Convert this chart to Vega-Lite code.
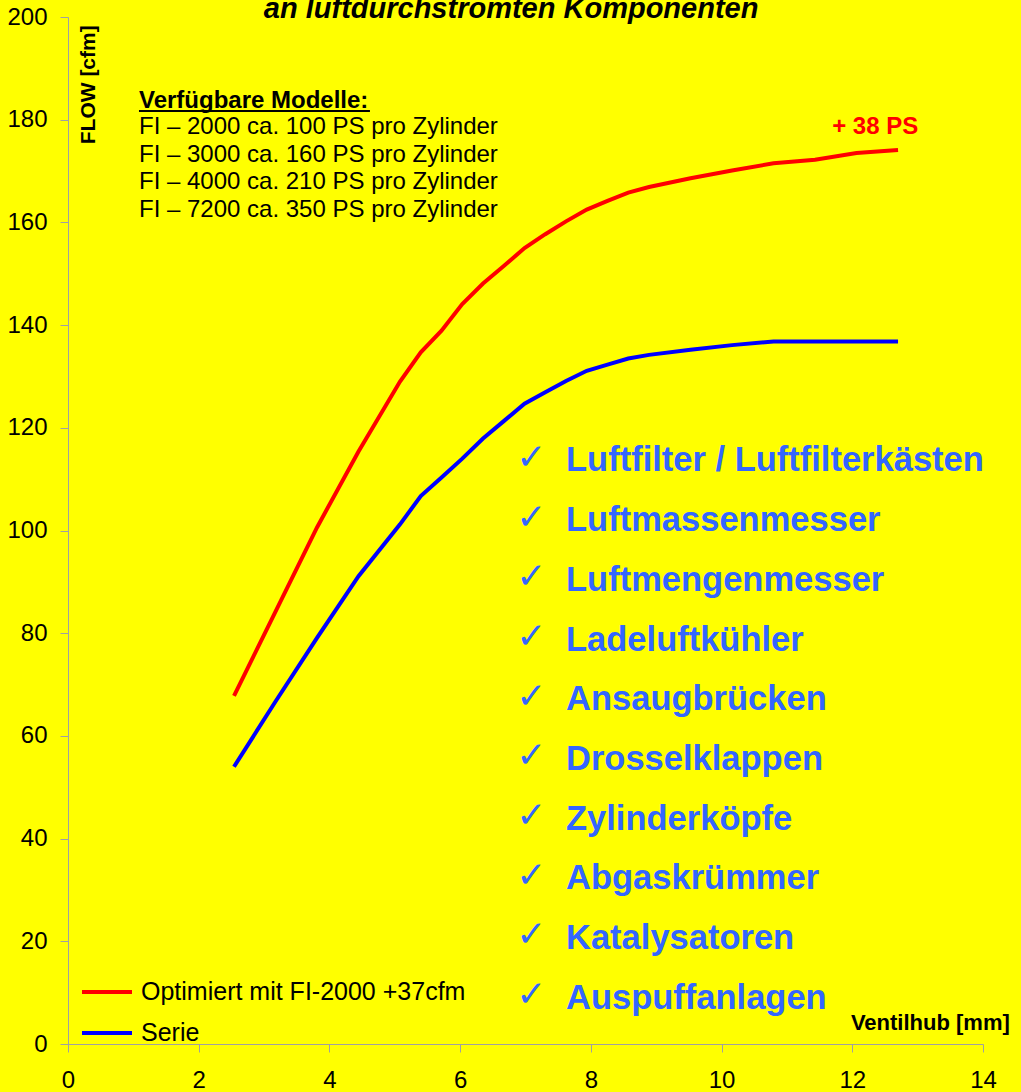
{
  "$schema": "https://vega.github.io/schema/vega-lite/v6.json",
  "width": 915,
  "height": 1027,
  "autosize": {"type": "none"},
  "padding": {"left": 68, "top": 17, "right": 38, "bottom": 48},
  "background": "#ffff00",
  "config": {
    "view": {"stroke": null},
    "font": "Liberation Sans",
    "text": {"font": "Liberation Sans"}
  },
  "datasets": {
    "curves": [
      {"lift": 2.54, "flow": 67.8, "series": "Optimiert mit FI-2000 +37cfm"},
      {"lift": 3.175, "flow": 84.2, "series": "Optimiert mit FI-2000 +37cfm"},
      {"lift": 3.81, "flow": 100.6, "series": "Optimiert mit FI-2000 +37cfm"},
      {"lift": 4.445, "flow": 115.4, "series": "Optimiert mit FI-2000 +37cfm"},
      {"lift": 5.08, "flow": 129.0, "series": "Optimiert mit FI-2000 +37cfm"},
      {"lift": 5.3975, "flow": 134.7, "series": "Optimiert mit FI-2000 +37cfm"},
      {"lift": 5.715, "flow": 138.9, "series": "Optimiert mit FI-2000 +37cfm"},
      {"lift": 6.0325, "flow": 144.1, "series": "Optimiert mit FI-2000 +37cfm"},
      {"lift": 6.35, "flow": 148.1, "series": "Optimiert mit FI-2000 +37cfm"},
      {"lift": 6.6675, "flow": 151.5, "series": "Optimiert mit FI-2000 +37cfm"},
      {"lift": 6.985, "flow": 155.0, "series": "Optimiert mit FI-2000 +37cfm"},
      {"lift": 7.3025, "flow": 157.7, "series": "Optimiert mit FI-2000 +37cfm"},
      {"lift": 7.62, "flow": 160.2, "series": "Optimiert mit FI-2000 +37cfm"},
      {"lift": 7.9375, "flow": 162.5, "series": "Optimiert mit FI-2000 +37cfm"},
      {"lift": 8.255, "flow": 164.2, "series": "Optimiert mit FI-2000 +37cfm"},
      {"lift": 8.5725, "flow": 165.8, "series": "Optimiert mit FI-2000 +37cfm"},
      {"lift": 8.89, "flow": 166.9, "series": "Optimiert mit FI-2000 +37cfm"},
      {"lift": 9.525, "flow": 168.6, "series": "Optimiert mit FI-2000 +37cfm"},
      {"lift": 10.16, "flow": 170.1, "series": "Optimiert mit FI-2000 +37cfm"},
      {"lift": 10.795, "flow": 171.5, "series": "Optimiert mit FI-2000 +37cfm"},
      {"lift": 11.43, "flow": 172.2, "series": "Optimiert mit FI-2000 +37cfm"},
      {"lift": 12.065, "flow": 173.5, "series": "Optimiert mit FI-2000 +37cfm"},
      {"lift": 12.7, "flow": 174.1, "series": "Optimiert mit FI-2000 +37cfm"},
      {"lift": 2.54, "flow": 54.0, "series": "Serie"},
      {"lift": 3.175, "flow": 66.7, "series": "Serie"},
      {"lift": 3.81, "flow": 79.1, "series": "Serie"},
      {"lift": 4.445, "flow": 91.1, "series": "Serie"},
      {"lift": 5.08, "flow": 101.2, "series": "Serie"},
      {"lift": 5.3975, "flow": 106.7, "series": "Serie"},
      {"lift": 5.715, "flow": 110.3, "series": "Serie"},
      {"lift": 6.0325, "flow": 114.0, "series": "Serie"},
      {"lift": 6.35, "flow": 117.9, "series": "Serie"},
      {"lift": 6.6675, "flow": 121.3, "series": "Serie"},
      {"lift": 6.985, "flow": 124.7, "series": "Serie"},
      {"lift": 7.3025, "flow": 126.9, "series": "Serie"},
      {"lift": 7.62, "flow": 129.1, "series": "Serie"},
      {"lift": 7.9375, "flow": 131.1, "series": "Serie"},
      {"lift": 8.255, "flow": 132.3, "series": "Serie"},
      {"lift": 8.5725, "flow": 133.5, "series": "Serie"},
      {"lift": 8.89, "flow": 134.2, "series": "Serie"},
      {"lift": 9.525, "flow": 135.2, "series": "Serie"},
      {"lift": 10.16, "flow": 136.1, "series": "Serie"},
      {"lift": 10.795, "flow": 136.8, "series": "Serie"},
      {"lift": 11.43, "flow": 136.8, "series": "Serie"},
      {"lift": 12.065, "flow": 136.8, "series": "Serie"},
      {"lift": 12.7, "flow": 136.8, "series": "Serie"}
    ],
    "title": [{"text": "an luftdurchstromten Komponenten"}],
    "gain": [{"text": "+ 38 PS"}],
    "heading": [{"text": "Verfügbare Modelle:"}],
    "underline": [{"from": 1.086, "to": 4.62, "level": 181.7}],
    "models": [{"lines": ["FI – 2000 ca. 100 PS pro Zylinder", "FI – 3000 ca. 160 PS pro Zylinder", "FI – 4000 ca. 210 PS pro Zylinder", "FI – 7200 ca. 350 PS pro Zylinder"]}],
    "ytitle": [{"text": "FLOW [cfm]"}],
    "xtitle": [{"text": "Ventilhub [mm]"}],
    "items": [{"lines": ["Luftfilter / Luftfilterkästen", "Luftmassenmesser", "Luftmengenmesser", "Ladeluftkühler", "Ansaugbrücken", "Drosselklappen", "Zylinderköpfe", "Abgaskrümmer", "Katalysatoren", "Auspuffanlagen"]}],
    "checks": [{"lines": ["✓", "✓", "✓", "✓", "✓", "✓", "✓", "✓", "✓", "✓"]}]
  },
  "layer": [
    {
      "data": {"name": "curves"},
      "mark": {"type": "line", "strokeWidth": 4, "interpolate": "linear"},
      "encoding": {
        "x": {
          "field": "lift", "type": "quantitative",
          "scale": {"domain": [0, 14], "nice": false, "zero": false},
          "axis": {
            "values": [0, 2, 4, 6, 8, 10, 12, 14], "format": "d", "title": null, "grid": false,
            "domainColor": "#a0a0a0", "tickColor": "#a0a0a0", "tickSize": 8,
            "labelFontSize": 24, "labelColor": "#000000", "labelPadding": 16,
            "labelFont": "Liberation Sans", "labelFlush": false, "labelOverlap": false
          }
        },
        "y": {
          "field": "flow", "type": "quantitative",
          "scale": {"domain": [0, 200], "nice": false},
          "axis": {
            "values": [0, 20, 40, 60, 80, 100, 120, 140, 160, 180, 200], "format": "d", "title": null, "grid": false,
            "domainColor": "#a0a0a0", "tickColor": "#a0a0a0", "tickSize": 8,
            "labelFontSize": 24, "labelColor": "#000000", "labelPadding": 13,
            "labelFont": "Liberation Sans", "labelFlush": false, "labelOverlap": false
          }
        },
        "color": {
          "field": "series", "type": "nominal",
          "scale": {"domain": ["Optimiert mit FI-2000 +37cfm", "Serie"], "range": ["#ff0000", "#0000ff"]},
          "legend": {
            "title": null, "orient": "none", "legendX": 12, "legendY": 948,
            "padding": 0, "symbolType": "stroke", "symbolSize": 2500, "symbolStrokeWidth": 4,
            "labelFontSize": 25, "labelFont": "Liberation Sans", "labelColor": "#000000",
            "labelOffset": 7, "rowPadding": 1, "labelLimit": 600
          }
        }
      }
    },
    {
      "data": {"name": "title"},
      "mark": {"type": "text", "fontSize": 29, "fontWeight": "bold", "fontStyle": "italic", "align": "center", "baseline": "alphabetic", "color": "#000000"},
      "encoding": {"x": {"datum": 6.78}, "y": {"datum": 199.9}, "text": {"field": "text"}}
    },
    {
      "data": {"name": "gain"},
      "mark": {"type": "text", "fontSize": 24, "fontWeight": "bold", "align": "center", "baseline": "alphabetic", "color": "#ff0000"},
      "encoding": {"x": {"datum": 12.35}, "y": {"datum": 177.2}, "text": {"field": "text"}}
    },
    {
      "data": {"name": "heading"},
      "mark": {"type": "text", "fontSize": 24, "fontWeight": "bold", "align": "left", "baseline": "alphabetic", "color": "#000000"},
      "encoding": {"x": {"datum": 1.086}, "y": {"datum": 182.2}, "text": {"field": "text"}}
    },
    {
      "data": {"name": "underline"},
      "mark": {"type": "rule", "strokeWidth": 2, "color": "#000000"},
      "encoding": {"x": {"field": "from", "type": "quantitative"}, "x2": {"field": "to"}, "y": {"field": "level", "type": "quantitative"}}
    },
    {
      "data": {"name": "models"},
      "mark": {"type": "text", "fontSize": 24, "align": "left", "baseline": "alphabetic", "lineHeight": 27.5, "color": "#000000"},
      "encoding": {"x": {"datum": 1.086}, "y": {"datum": 177.2}, "text": {"field": "lines"}}
    },
    {
      "data": {"name": "ytitle"},
      "mark": {"type": "text", "fontSize": 21, "fontWeight": "bold", "align": "center", "baseline": "middle", "angle": 270, "color": "#000000"},
      "encoding": {"x": {"datum": 0.32}, "y": {"datum": 186.8}, "text": {"field": "text"}}
    },
    {
      "data": {"name": "xtitle"},
      "mark": {"type": "text", "fontSize": 22, "fontWeight": "bold", "align": "right", "baseline": "alphabetic", "color": "#000000"},
      "encoding": {"x": {"datum": 14.41}, "y": {"datum": 2.7}, "text": {"field": "text"}}
    },
    {
      "data": {"name": "items"},
      "mark": {"type": "text", "fontSize": 34.5, "fontWeight": "bold", "align": "left", "baseline": "alphabetic", "lineHeight": 59.7, "color": "#3366ff"},
      "encoding": {"x": {"datum": 7.62}, "y": {"datum": 111.5}, "text": {"field": "lines"}}
    },
    {
      "data": {"name": "checks"},
      "mark": {"type": "text", "font": "DejaVu Sans", "fontSize": 36, "align": "left", "baseline": "alphabetic", "lineHeight": 59.7, "color": "#3366ff"},
      "encoding": {"x": {"datum": 6.86}, "y": {"datum": 112.0}, "text": {"field": "lines"}}
    }
  ]
}
